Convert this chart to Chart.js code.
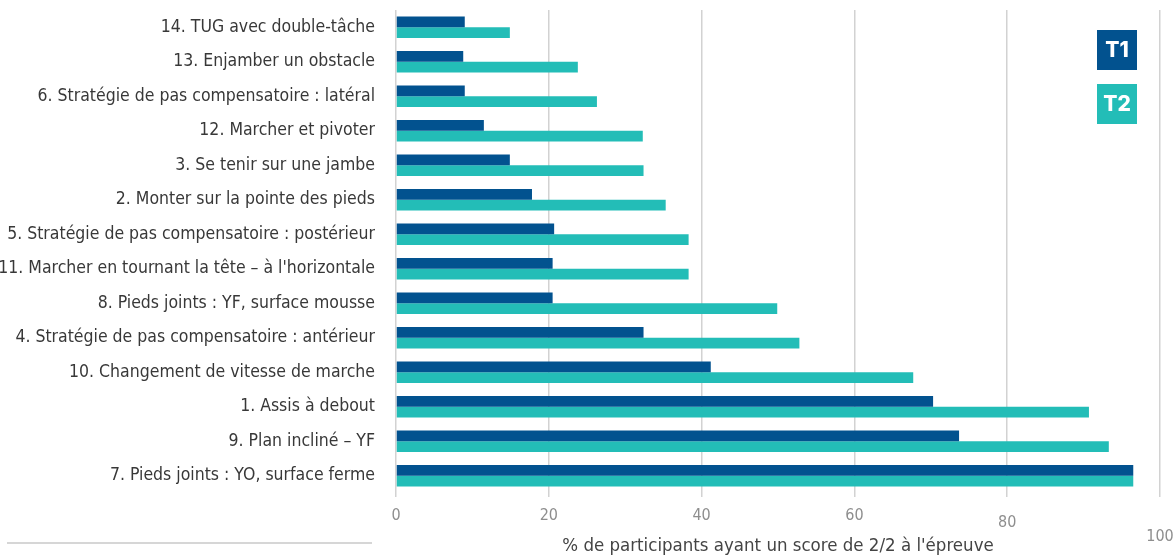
<!DOCTYPE html>
<html lang="fr">
<head>
    <meta charset="UTF-8">
    <title>Scores 2/2 par épreuve</title>
    <script src="https://cdn.jsdelivr.net/npm/chart.js"></script>
    <style>
        html, body {
            margin: 0;
            padding: 0;
            background: #ffffff;
        }
        #wrap {
            position: relative;
            width: 1174px;
            height: 555px;
        }
    </style>
</head>
<body>
    <div id="wrap">
        <canvas id="chart" width="1174" height="555"></canvas>
    </div>

    <script>
        const categories = [
            "14. TUG avec double-tâche",
            "13. Enjamber un obstacle",
            "6. Stratégie de pas compensatoire : latéral",
            "12. Marcher et pivoter",
            "3. Se tenir sur une jambe",
            "2. Monter sur la pointe des pieds",
            "5. Stratégie de pas compensatoire : postérieur",
            "11. Marcher en tournant la tête – à l'horizontale",
            "8. Pieds joints : YF, surface mousse",
            "4. Stratégie de pas compensatoire : antérieur",
            "10. Changement de vitesse de marche",
            "1. Assis à debout",
            "9. Plan incliné – YF",
            "7. Pieds joints : YO, surface ferme"
        ];
        const t1Values = [9.0, 8.8, 9.0, 11.5, 14.9, 17.8, 20.7, 20.5, 20.5, 32.4, 41.2, 70.3, 73.7, 96.5];
        const t2Values = [14.9, 23.8, 26.3, 32.3, 32.4, 35.3, 38.3, 38.3, 49.9, 52.8, 67.7, 90.7, 93.3, 96.5];
        const xTicks = [0, 20, 40, 60, 80, 100];
        const axisTitle = "% de participants ayant un score de 2/2 à l'épreuve";

        const labelFont = "'Liberation Sans Narrow', 'DejaVu Sans Condensed', 'Liberation Sans', sans-serif";

        // legend boxes drawn inside the chart, top right
        const boxLegend = {
            id: 'boxLegend',
            afterDraw(chart) {
                const ctx = chart.ctx;
                ctx.save();
                chart.data.datasets.forEach((ds, i) => {
                    const x = 1097, y = 30 + i * 54;
                    ctx.fillStyle = ds.backgroundColor;
                    ctx.fillRect(x, y, 40, 40);
                    ctx.fillStyle = '#ffffff';
                    ctx.font = "800 21px Inter, 'Liberation Sans', sans-serif";
                    ctx.textAlign = 'center';
                    ctx.textBaseline = 'middle';
                    ctx.fillText(ds.label, x + 20, y + 21);
                });
                // thin rule under the category labels
                ctx.strokeStyle = '#c8c8c8';
                ctx.lineWidth = 1.5;
                ctx.beginPath();
                ctx.moveTo(7, 543);
                ctx.lineTo(372, 543);
                ctx.stroke();
                ctx.restore();
            }
        };

        new Chart(document.getElementById('chart'), {
            type: 'bar',
            data: {
                labels: categories,
                datasets: [
                    { label: 'T1', data: t1Values, backgroundColor: '#02528f', categoryPercentage: 0.62, barPercentage: 1.0 },
                    { label: 'T2', data: t2Values, backgroundColor: '#23bdb7', categoryPercentage: 0.62, barPercentage: 1.0 }
                ]
            },
            options: {
                indexAxis: 'y',
                responsive: false,
                animation: false,
                layout: { padding: { top: 10, right: 14, left: 0, bottom: 0 } },
                plugins: {
                    legend: { display: false },
                    tooltip: { enabled: false }
                },
                scales: {
                    x: {
                        min: 0,
                        max: 100,
                        afterFit(scale) {
                            scale.height = 62;
                            scale.paddingLeft = 0;
                            scale.paddingRight = 0;
                        },
                        afterBuildTicks(scale) { scale.ticks = xTicks.map(v => ({ value: v })); },
                        grid: { color: '#d2d2d2', lineWidth: 1.5, tickLength: 4, drawTicks: true },
                        border: { display: false },
                        ticks: {
                            color: '#8e8e8e',
                            padding: 10,
                            font: ctx => {
                                const v = ctx.tick ? ctx.tick.value : 0;
                                let lh = 17;
                                if (v === 80) lh = 31;
                                if (v === 100) lh = 59;
                                return { family: labelFont, size: 16, lineHeight: lh + 'px' };
                            }
                        },
                        title: {
                            display: true,
                            text: axisTitle,
                            color: '#444444',
                            padding: { top: 0, bottom: -2 },
                            font: { family: labelFont, size: 18.5 }
                        }
                    },
                    y: {
                        afterFit(scale) {
                            scale.width = 396;
                            scale.paddingTop = 0;
                            scale.paddingBottom = 0;
                        },
                        grid: { display: false },
                        border: { display: false },
                        ticks: {
                            color: '#383838',
                            padding: 13,
                            autoSkip: false,
                            font: { family: labelFont, size: 17.5 }
                        }
                    }
                }
            },
            plugins: [boxLegend]
        });
    </script>
</body>
</html>
